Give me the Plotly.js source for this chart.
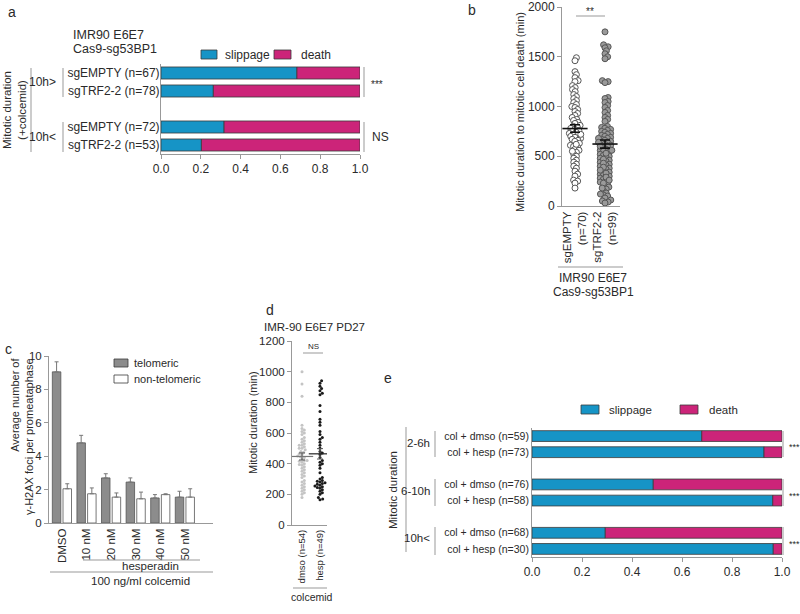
<!DOCTYPE html>
<html>
<head>
<meta charset="utf-8">
<script src="https://cdn.plot.ly/plotly-3.0.1.min.js"></script>
<style>html,body{margin:0;padding:0;background:#fff}#chart{width:800px;height:614px}</style>
</head>
<body>
<div id="chart"></div>
<script>
// ---------- DATA ----------
// Panel a: fraction slippage (death = 1 - slippage)
const aRows = ["sgEMPTY (n=67)", "sgTRF2-2 (n=78)", " ", "sgEMPTY (n=72)", "sgTRF2-2 (n=53)"];
const aSlippage = [0.683, 0.263, null, 0.317, 0.203];

// Panel b: mitotic duration to mitotic cell death (min)
const bCats = ["sgEMPTY<br>(n=70)", "sgTRF2-2<br>(n=99)"];
const bEmpty = [1490,1460,1350,1320,1290,1260,1250,1210,1190,1170,1150,1120,1100,
  1080,1060,1040,1020,1000,990,970,950,930,910,890,870,860,840,830,810,800,
  790,780,770,760,750,740,730,720,710,700,690,680,670,660,650,
  630,610,600,590,570,560,540,520,500,480,460,440,420,400,380,350,320,300,260,250,230,180,
  550,720,620];
const bTrf = [1750,1620,1600,1590,1560,1530,1500,1480,
  1260,1250,1240,
  1090,1080,1050,1040,1010,990,960,940,910,890,870,850,
  800,790,780,770,760,750,740,730,720,710,700,690,680,670,660,650,640,630,620,610,
  600,590,570,560,550,540,520,510,500,490,480,460,450,440,420,410,400,
  380,370,350,340,320,310,300,280,270,250,240,220,200,190,170,150,130,110,100,80,60,50,40,30,
  680,640,600,560,530,470,430,390,360,330,290,260,230,180,120];

// Panel c: average number of gamma-H2AX foci per prometaphase
const cCats = ["DMSO", "10 nM", "20 nM", "30 nM", "40 nM", "50 nM"];
const cTelo = [9.05, 4.8, 2.7, 2.45, 1.5, 1.55];
const cTeloErr = [0.6, 0.45, 0.25, 0.25, 0.2, 0.35];
const cNon = [2.05, 1.75, 1.55, 1.45, 1.7, 1.55];
const cNonErr = [0.3, 0.35, 0.25, 0.4, 0.05, 0.5];

// Panel d: mitotic duration (min)
const dCats = ["dmso (n=54)", "hesp (n=49)"];
const dDmso = [1000,920,840,650,630,610,600,590,570,560,550,540,530,520,510,500,490,480,
  475,465,460,450,445,440,430,420,415,410,400,395,390,380,370,360,350,340,330,320,
  310,500,520,290,280,270,260,250,240,230,220,210,200,180,620,420];
const dHesp = [940,925,905,890,875,860,850,780,740,690,670,650,610,590,570,560,
  540,520,500,480,470,460,440,420,410,400,390,370,340,310,300,290,285,280,275,270,
  265,260,255,250,245,240,230,220,210,200,180,170,165];

// Panel e: fraction slippage (death = 1 - slippage)
const eRows = ["col + dmso (n=59)", "col + hesp (n=73)", " ", "col + dmso (n=76)", "col + hesp (n=58)", "  ", "col + dmso (n=68)", "col + hesp (n=30)"];
const eSlippage = [0.679, 0.928, null, 0.485, 0.963, null, 0.293, 0.965];

// ---------- STYLE ----------
const FONT = "Liberation Sans, Arial, Helvetica, sans-serif";
const BLUE = "#1694c6", MAG = "#cc2479", EDGE = "#3a3a3a";
const AX = "#999999", TXT = "#2a2a2a";
const W = 800, H = 614;
const px = x => x / W, py = y => 1 - y / H;

function swarm(vals, unitY, unitX, diam) {
  const idx = vals.map((v, i) => i).sort((a, b) => vals[a] - vals[b]);
  const placed = [], off = new Array(vals.length);
  for (const i of idx) {
    const y = vals[i] * unitY;
    const near = placed.filter(p => Math.abs(p.y - y) < diam);
    const cands = [0];
    near.forEach(p => { const dx = Math.sqrt(diam * diam - (p.y - y) ** 2); cands.push(p.x + dx, p.x - dx); });
    cands.sort((a, b) => Math.abs(a) - Math.abs(b));
    const best = cands.find(c => near.every(p => (p.x - c) ** 2 + (p.y - y) ** 2 >= diam * diam - 1e-6));
    placed.push({ x: best, y });
    off[i] = best / unitX;
  }
  return off;
}
const mean = a => a.reduce((s, v) => s + v, 0) / a.length;
const sem = a => { const m = mean(a); return Math.sqrt(a.reduce((s, v) => s + (v - m) ** 2, 0) / (a.length - 1)) / Math.sqrt(a.length); };

const traces = [];
// Panel a bars
traces.push({ type: "bar", orientation: "h", y: aRows, x: aSlippage, xaxis: "x", yaxis: "y",
  marker: { color: BLUE, line: { color: EDGE, width: 0.8 } }, showlegend: false, name: "slippage" });
traces.push({ type: "bar", orientation: "h", y: aRows, x: aSlippage.map(v => v == null ? null : 1 - v), base: aSlippage,
  xaxis: "x", yaxis: "y", marker: { color: MAG, line: { color: EDGE, width: 0.8 } }, showlegend: false, name: "death" });

// Panel b scatter
const bGroups = [bEmpty, bTrf];
const bFill = ["#ffffff", "#9a9a9a"];
bGroups.forEach((g, k) => {
  const off = swarm(g, 199 / 2000, 30, 3.3);
  traces.push({ type: "scatter", mode: "markers", xaxis: "x2", yaxis: "y2", x: g.map((v, i) => k + off[i]), y: g,
    marker: { size: 6, color: bFill[k], line: { color: "#555", width: 1 } }, showlegend: false });
});
traces.push({ type: "scatter", mode: "markers", xaxis: "x2", yaxis: "y2", x: [0, 1], y: bGroups.map(mean),
  marker: { symbol: "line-ew", size: 18, line: { color: "#111", width: 1.6 } },
  error_y: { type: "data", array: bGroups.map(sem), color: "#111", thickness: 1.6, width: 5 }, showlegend: false });

// Panel c grouped bars
traces.push({ type: "bar", x: cCats, y: cTelo, xaxis: "x3", yaxis: "y3", width: 0.345, offset: -0.394,
  marker: { color: "#8c8c8c", line: { color: "#555", width: 0.8 } },
  error_y: { type: "data", symmetric: false, array: cTeloErr, arrayminus: cTeloErr.map(() => 0), color: "#777", thickness: 1, width: 2 },
  showlegend: false, name: "telomeric" });
traces.push({ type: "bar", x: cCats, y: cNon, xaxis: "x3", yaxis: "y3", width: 0.345, offset: 0.04,
  marker: { color: "#ffffff", line: { color: "#555", width: 0.8 } },
  error_y: { type: "data", symmetric: false, array: cNonErr, arrayminus: cNonErr.map(() => 0), color: "#777", thickness: 1, width: 2 },
  showlegend: false, name: "non-telomeric" });

// Panel d scatter
const dGroups = [dDmso, dHesp];
const dCol = ["#c4c4c4", "#1a1a1a"];
dGroups.forEach((g, k) => {
  const off = swarm(g, 184 / 1200, 18, 2.8);
  traces.push({ type: "scatter", mode: "markers", xaxis: "x4", yaxis: "y4", x: g.map((v, i) => k + off[i]), y: g,
    marker: { size: 3, color: dCol[k] }, showlegend: false });
});
traces.push({ type: "scatter", mode: "markers", xaxis: "x4", yaxis: "y4", x: [0, 1], y: dGroups.map(mean),
  marker: { symbol: "line-ew", size: 16, line: { color: ["#777", "#222"], width: 1.2 } },
  error_y: { type: "data", array: dGroups.map(sem), color: "#555", thickness: 1, width: 3 }, showlegend: false });

// Panel e bars
traces.push({ type: "bar", orientation: "h", y: eRows, x: eSlippage, xaxis: "x5", yaxis: "y5",
  marker: { color: BLUE, line: { color: EDGE, width: 0.8 } }, showlegend: false, name: "slippage" });
traces.push({ type: "bar", orientation: "h", y: eRows, x: eSlippage.map(v => v == null ? null : 1 - v), base: eSlippage,
  xaxis: "x5", yaxis: "y5", marker: { color: MAG, line: { color: EDGE, width: 0.8 } }, showlegend: false, name: "death" });

// ---------- AXES ----------
const baseAx = { showgrid: false, zeroline: false, showline: true, linecolor: AX, linewidth: 1, tickcolor: AX,
  tickfont: { family: FONT, size: 12, color: TXT }, fixedrange: true };

const layout = {
  width: W, height: H, margin: { l: 0, r: 0, t: 0, b: 0 }, autosize: false,
  paper_bgcolor: "#fff", plot_bgcolor: "rgba(0,0,0,0)", barmode: "overlay", bargap: 0.33,
  font: { family: FONT, color: TXT },
  xaxis: Object.assign({}, baseAx, { domain: [px(161), px(360)], range: [0, 1.0], tickvals: [0, 0.2, 0.4, 0.6, 0.8, 1.0],
    tickformat: ".1f", ticks: "outside", ticklen: 4, anchor: "y" }),
  yaxis: Object.assign({}, baseAx, { domain: [py(154), py(64)], type: "category", categoryorder: "array", categoryarray: aRows,
    range: [4.5, -0.5], ticks: "", ticklabelstandoff: -2, tickfont: { family: FONT, size: 12, color: TXT }, anchor: "x" }),
  xaxis2: Object.assign({}, baseAx, { domain: [px(562), px(620)], range: [-0.433, 1.5], tickvals: [0, 1], ticktext: bCats,
    tickangle: -90, ticks: "", tickfont: { family: FONT, size: 11.5, color: TXT }, anchor: "y2" }),
  yaxis2: Object.assign({}, baseAx, { domain: [py(206), py(7)], range: [0, 2000], tickvals: [0, 500, 1000, 1500, 2000],
    ticks: "outside", ticklen: 4, anchor: "x2" }),
  xaxis3: Object.assign({}, baseAx, { domain: [px(49), px(213)], type: "category", categoryorder: "array", categoryarray: cCats,
    range: [-0.53, 6.14], tickangle: -90, ticks: "", tickfont: { family: FONT, size: 11.5, color: TXT }, anchor: "y3" }),
  yaxis3: Object.assign({}, baseAx, { domain: [py(523), py(356)], range: [0, 10], tickvals: [0, 2, 4, 6, 8, 10],
    ticks: "outside", ticklen: 4, tickfont: { family: FONT, size: 11.5, color: TXT }, anchor: "x3" }),
  xaxis4: Object.assign({}, baseAx, { domain: [px(292), px(327)], range: [-0.556, 1.39], tickvals: [0, 1], ticktext: dCats,
    tickangle: -90, ticks: "", tickfont: { family: FONT, size: 9.5, color: TXT }, anchor: "y4" }),
  yaxis4: Object.assign({}, baseAx, { domain: [py(525), py(341)], range: [0, 1200], tickvals: [0, 200, 400, 600, 800, 1000, 1200],
    ticks: "outside", ticklen: 4, tickfont: { family: FONT, size: 11.5, color: TXT }, anchor: "x4" }),
  xaxis5: Object.assign({}, baseAx, { domain: [px(532), px(782)], range: [0, 1.0], tickvals: [0, 0.2, 0.4, 0.6, 0.8, 1.0],
    tickformat: ".1f", ticks: "outside", ticklen: 4, anchor: "y5" }),
  yaxis5: Object.assign({}, baseAx, { domain: [py(557), py(428)], type: "category", categoryorder: "array", categoryarray: eRows,
    range: [7.5, -0.5], ticks: "", tickfont: { family: FONT, size: 10.5, color: TXT }, anchor: "x5" }),
  shapes: [], annotations: []
};

// ---------- DECORATION ----------
const ln = (x0, y0, x1, y1, c) => layout.shapes.push({ type: "line", xref: "paper", yref: "paper",
  x0: px(x0), y0: py(y0), x1: px(x1), y1: py(y1), line: { color: c || AX, width: 1 } });
const box = (x0, y0, x1, y1, fill) => layout.shapes.push({ type: "rect", xref: "paper", yref: "paper",
  x0: px(x0), y0: py(y0), x1: px(x1), y1: py(y1), fillcolor: fill, line: { color: EDGE, width: 0.8 } });
const txt = (x, y, t, size, xa, opts) => layout.annotations.push(Object.assign({ xref: "paper", yref: "paper",
  x: px(x), y: py(y), text: t, showarrow: false, xanchor: xa || "center", yanchor: "middle",
  font: { family: FONT, size: size, color: TXT } }, opts || {}));

// Panel letters
txt(12, 12, "a", 14); txt(472, 10, "b", 14); txt(8, 349, "c", 14); txt(270, 310, "d", 14); txt(388, 378, "e", 14);

// Panel a
txt(71, 35, "IMR90 E6E7", 12.5, "left"); txt(71, 49, "Cas9-sg53BP1", 12.5, "left");
box(201, 50, 217, 59, BLUE); txt(223, 55, "slippage", 12, "left");
box(274, 50, 291, 59, MAG); txt(299, 55, "death", 12, "left");
txt(58, 82, "10h>", 12, "right"); txt(58, 137, "10h<", 12, "right");
ln(63, 68, 63, 97); ln(63, 122, 63, 152); ln(31, 68, 31, 152);
txt(15, 110, "Mitotic duration<br>(+colcemid)", 11.5, "center", { textangle: -90 });
ln(364, 67, 364, 97); txt(369, 84, "***", 10, "left");
ln(364, 122, 364, 152); txt(370, 137, "NS", 12, "left");

// Panel b
txt(520, 112, "Mitotic duration to mitotic cell death (min)", 11, "center", { textangle: -90 });
ln(576, 16, 605, 16); txt(590, 11, "**", 10);
ln(558, 267, 623, 267); txt(593, 278, "IMR90 E6E7", 12); txt(593, 292, "Cas9-sg53BP1", 12);

// Panel c
txt(22, 437, "Average number of<br>γ-H2AX foci per promeataphase", 11, "center", { textangle: -90, align: "right" });
box(114, 359, 128, 367, "#8c8c8c"); txt(132, 363, "telomeric", 11, "left");
box(114, 375, 128, 383, "#ffffff"); txt(132, 379, "non-telomeric", 11, "left");
ln(83, 560, 200, 560); txt(150, 566, "hesperadin", 11.5);
ln(50, 572, 213, 572); txt(140, 581, "100 ng/ml colcemid", 11.5);

// Panel d
txt(262, 327, "IMR-90 E6E7 PD27", 11.5, "left");
txt(253, 422, "Mitotic duration (min)", 11, "center", { textangle: -90 });
ln(303, 353, 323, 353); txt(313, 346, "NS", 8);
ln(293, 588, 327, 588); txt(312, 597, "colcemid", 10.5);

// Panel e
box(581, 405, 599, 414, BLUE); txt(607, 410, "slippage", 11.5, "left");
box(680, 405, 698, 414, MAG); txt(707, 410, "death", 11.5, "left");
txt(432, 443, "2-6h", 11.5, "right"); txt(432, 491, "6-10h", 11.5, "right"); txt(432, 538, "10h<", 11.5, "right");
ln(435, 431, 435, 457); ln(435, 479, 435, 506); ln(435, 527, 435, 555);
ln(406, 427, 406, 552);
txt(393, 490, "Mitotic duration", 11.5, "center", { textangle: -90 });
[[431, 457], [479, 506], [527, 555]].forEach(r => { ln(783, r[0], 783, r[1]); txt(787, (r[0] + r[1]) / 2 + 3, "***", 9, "left"); });

Plotly.newPlot("chart", traces, layout, { staticPlot: true, displayModeBar: false });
</script>
</body>
</html>
